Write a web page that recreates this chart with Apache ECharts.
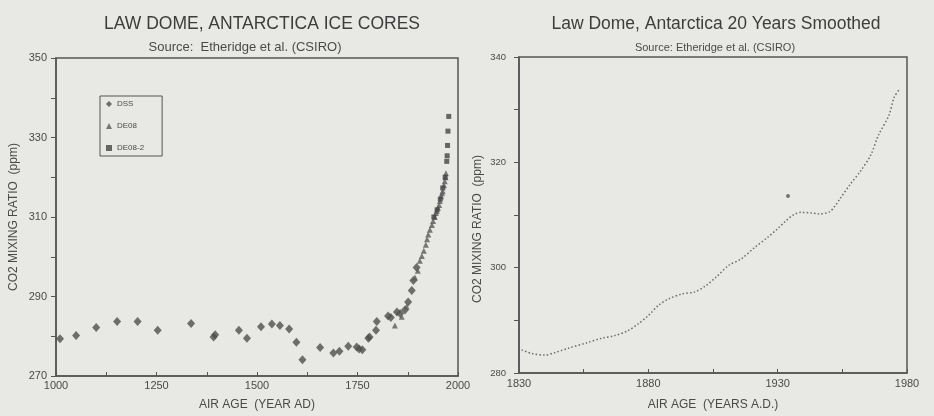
<!DOCTYPE html>
<html><head><meta charset="utf-8">
<script src="https://cdn.jsdelivr.net/npm/echarts@6/dist/echarts.min.js"></script>
<style>html,body{margin:0;padding:0;background:#e8e8e5;}#c{width:934px;height:416px;}</style>
</head><body><div id="c"></div>
<script>
// Left chart: Law Dome ice cores (year AD, CO2 ppm)
const dssYears = [1010,1050,1100,1152,1203,1253,1336,1392,1396,1455,1475,1510,1537,1557,1580,1598,1613,1657,1690,1705,1727,1748,1754,1762,1777,1780,1796,1798,1826,1833,1848,1856,1868,1876,1885,1889,1897];
const dssCO2   = [279.4,280.2,282.2,283.7,283.7,281.5,283.2,279.8,280.4,281.5,279.5,282.4,283.1,282.7,281.8,278.5,274.1,277.2,275.8,276.2,277.5,277.3,276.8,276.6,279.5,279.8,281.5,283.7,285.1,284.7,286.1,285.7,286.6,288.6,291.5,294.0,297.3];
const de08Years = [1843,1860,1872,1893,1900,1905,1910,1915,1920,1923,1926,1930,1935,1938,1942,1945,1947,1950,1953,1955,1958,1960,1962,1965,1967,1969,1970];
const de08CO2   = [282.7,284.9,287.5,294.8,296.5,299.0,300.2,301.5,303.0,304.4,305.6,306.8,308.0,309.0,310.0,311.0,311.5,312.3,313.0,314.0,315.2,316.0,316.5,318.0,319.0,320.0,321.0];
const de082Years = [1940,1948,1956,1962,1968,1972,1973,1974,1975,1977];
const de082CO2   = [310.0,311.8,314.5,317.3,320.0,324.0,325.4,328.0,331.6,335.3];

// Right chart: 20-year smoothed
const smYears = [1831,1835,1840,1844,1849,1856,1862,1867,1872,1876,1880,1884,1888,1893,1898,1902,1906,1911,1916,1921,1926,1930,1933,1936,1939,1943,1946,1950,1952,1954,1958,1962,1966,1969,1973,1975,1977];
const smCO2   = [284.4,283.7,283.4,283.9,284.7,285.7,286.6,287.1,288.0,289.3,290.9,292.9,294.1,295.0,295.4,296.5,298.1,300.4,301.7,303.8,305.7,307.4,308.8,310.0,310.5,310.4,310.2,310.6,311.6,313.0,315.8,318.3,321.4,325.2,328.9,332.3,333.8];
const outlierYear = [1934];
const outlierCO2 = [313.6];

const leftXLabels = [1000,1250,1500,1750,2000];
const leftXTicks = [1000,1125,1250,1375,1500,1625,1750,1875,2000];
const rightXLabels = [1830,1880,1930,1980];
const rightXTicks = [1830,1855,1880,1905,1930,1955,1980];

const pair = (xs, ys) => xs.map((x, i) => [x, ys[i]]);
const ink = '#4a4a4a';
const font = 'Liberation Sans, Arial, sans-serif';

const axisCommon = {
  axisLine: {show: true, lineStyle: {color: '#555', width: 1.5}},
  splitLine: {show: false},
  axisLabel: {color: ink, fontSize: 11, fontFamily: font},
  nameTextStyle: {color: ink, fontSize: 12, fontFamily: font}
};

const chart = echarts.init(document.getElementById('c'));
chart.setOption({
  backgroundColor: '#e8e8e5',
  animation: false,
  title: [
    {text: 'LAW DOME, ANTARCTICA ICE CORES', left: 257, top: 10, textAlign: 'center',
     textStyle: {fontSize: 17.5, fontWeight: 'normal', color: '#3d3d3d', fontFamily: font}},
    {text: 'Source:  Etheridge et al. (CSIRO)', left: 240, top: 36, textAlign: 'center',
     textStyle: {fontSize: 13, fontWeight: 'normal', color: ink, fontFamily: font}},
    {text: 'Law Dome, Antarctica 20 Years Smoothed', left: 711, top: 10, textAlign: 'center',
     textStyle: {fontSize: 17.5, fontWeight: 'normal', color: '#3d3d3d', fontFamily: font}},
    {text: 'Source: Etheridge et al. (CSIRO)', left: 710, top: 37, textAlign: 'center',
     textStyle: {fontSize: 11, fontWeight: 'normal', color: ink, fontFamily: font}}
  ],
  legend: {
    data: ['DSS', 'DE08', 'DE08-2'], orient: 'vertical', left: 100, top: 96,
    borderColor: '#555', borderWidth: 1, padding: [4, 18, 4, 6], itemGap: 14,
    itemWidth: 6, itemHeight: 6,
    textStyle: {fontSize: 8, color: ink, fontFamily: font}
  },
  grid: [
    {left: 56, top: 58, width: 402, height: 322, show: true, borderColor: '#555', borderWidth: 1.5, backgroundColor: 'transparent'},
    {left: 519, top: 57, width: 388, height: 320, show: true, borderColor: '#555', borderWidth: 1.5, backgroundColor: 'transparent'}
  ],
  xAxis: [
    Object.assign({}, axisCommon, {
      gridIndex: 0, type: 'value', min: 1000, max: 2000,
      name: 'AIR AGE  (YEAR AD)', nameLocation: 'middle', nameGap: 23,
      axisTick: {show: true, inside: true, length: 4, lineStyle: {color: '#555'}, customValues: leftXTicks},
      axisLabel: Object.assign({}, axisCommon.axisLabel, {customValues: leftXLabels, margin: 4, formatter: v => String(v)})
    }),
    Object.assign({}, axisCommon, {
      gridIndex: 1, type: 'value', min: 1830, max: 1980,
      name: 'AIR AGE  (YEARS A.D.)', nameLocation: 'middle', nameGap: 26,
      axisTick: {show: true, inside: true, length: 4, lineStyle: {color: '#555'}, customValues: rightXTicks},
      axisLabel: Object.assign({}, axisCommon.axisLabel, {customValues: rightXLabels, margin: 5, formatter: v => String(v)})
    })
  ],
  yAxis: [
    Object.assign({}, axisCommon, {
      gridIndex: 0, type: 'value', min: 270, max: 350, interval: 10,
      name: 'CO2 MIXING RATIO  (ppm)', nameLocation: 'middle', nameGap: 36,
      axisTick: {show: true, inside: false, length: 5, lineStyle: {color: '#555'}},
      axisLabel: Object.assign({}, axisCommon.axisLabel, {margin: 9,
        formatter: v => ((v - 270) % 20 === 0 ? String(v) : '')})
    }),
    Object.assign({}, axisCommon, {
      gridIndex: 1, type: 'value', min: 280, max: 340, interval: 10,
      name: 'CO2 MIXING RATIO  (ppm)', nameLocation: 'middle', nameGap: 35,
      nameTextStyle: {color: ink, fontSize: 12, fontFamily: font, padding: [0, 28, 0, 0]},
      axisTick: {show: true, inside: false, length: 5, lineStyle: {color: '#555'}},
      axisLabel: Object.assign({}, axisCommon.axisLabel, {margin: 13, fontSize: 9.5,
        formatter: v => ((v - 280) % 20 === 0 ? String(v) : '')})
    })
  ],
  series: [
    {name: 'DSS', type: 'scatter', xAxisIndex: 0, yAxisIndex: 0, symbol: 'diamond', symbolSize: [8, 9],
     itemStyle: {color: '#4e4e4e'}, data: pair(dssYears, dssCO2)},
    {name: 'DE08', type: 'scatter', xAxisIndex: 0, yAxisIndex: 0, symbol: 'triangle', symbolSize: 6,
     itemStyle: {color: '#5a5a5a'}, data: pair(de08Years, de08CO2)},
    {name: 'DE08-2', type: 'scatter', xAxisIndex: 0, yAxisIndex: 0, symbol: 'rect', symbolSize: 5,
     itemStyle: {color: '#444'}, data: pair(de082Years, de082CO2)},
    {name: 'smoothed', type: 'line', xAxisIndex: 1, yAxisIndex: 1, symbol: 'none', smooth: 0.3,
     lineStyle: {color: '#6a6a6a', width: 1.5, type: [1.5, 2.2]}, data: pair(smYears, smCO2)},
    {name: 'outlier', type: 'scatter', xAxisIndex: 1, yAxisIndex: 1, symbol: 'circle', symbolSize: 4,
     itemStyle: {color: '#555'}, data: pair(outlierYear, outlierCO2)}
  ]
});
</script></body></html>
